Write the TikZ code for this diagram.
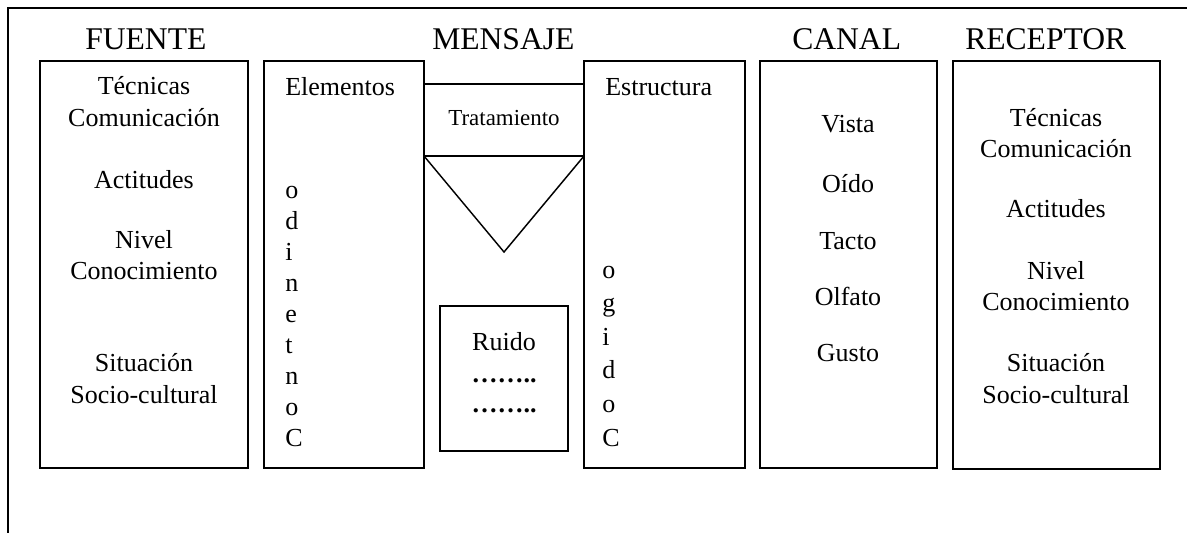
\documentclass[tikz,border=0pt]{standalone}
\usepackage{fontspec}
\setmainfont{Liberation Serif}
\begin{document}
\begin{tikzpicture}[x=0.75pt,y=-0.75pt,
  frame/.style={draw=black,line width=1.1pt},
  head/.style={font=\fontsize{23.7pt}{28pt}\selectfont,inner sep=0pt,anchor=base west},
  txt/.style={font=\fontsize{19.5pt}{23pt}\selectfont,inner sep=0pt,anchor=base},
  txtl/.style={font=\fontsize{19.5pt}{23pt}\selectfont,inner sep=0pt,anchor=base west},
  small/.style={font=\fontsize{17.2pt}{20pt}\selectfont,inner sep=0pt,anchor=base}]
\useasboundingbox (0,0) rectangle (1187,533);
% outer border
\draw[frame] (1187,8) -- (8,8) -- (8,533);
% boxes
\draw[frame] (40,61) rectangle (248,468);
\draw[frame] (264,61) rectangle (424,468);
\draw[frame] (424,84) rectangle (584,156);
\draw[frame] (424,156) -- (504,252) -- (584,156);
\draw[frame] (584,61) rectangle (745,468);
\draw[frame] (440,306) rectangle (568,451);
\draw[frame] (760,61) rectangle (937,468);
\draw[frame] (953,61) rectangle (1160,469);
% headings
\node[head] (h1) at (85,49) {FUENTE};
\node[head] (h2) at (432,49) {MENSAJE};
\node[head] (h3) at (792,49) {CANAL};
\node[head] (h4) at (965,49) {RECEPTOR};
% fuente
\node[txt] (f1) at (144,94) {Técnicas};
\node[txt] (f2) at (144,126) {Comunicación};
\node[txt] (f3) at (144,188) {Actitudes};
\node[txt] (f4) at (144,248) {Nivel};
\node[txt] (f5) at (144,279) {Conocimiento};
\node[txt] (f6) at (144,371) {Situación};
\node[txt] (f7) at (144,403) {Socio-cultural};
% mensaje
\node[txtl] (m1) at (285,95) {Elementos};
\node[small] (m2) at (504,125) {Tratamiento};
\node[txtl] (m3) at (605,95) {Estructura};
\foreach \c [count=\i from 0] in {o,d,i,n,e,t,n,o,C}
  \node[txtl] (cl\i) at (285,198+31*\i) {\c};
\foreach \c [count=\i from 0] in {o,g,i,d,o,C}
  \node[txtl] (cr\i) at (602,278+33.6*\i) {\c};
\node[txt] (r1) at (504,350) {Ruido};
\node[txt] (r2) at (504,382) {\textbf{……..}};
\node[txt] (r3) at (504,412) {\textbf{……..}};
% canal
\node[txt] (c1) at (848,132) {Vista};
\node[txt] (c2) at (848,192) {Oído};
\node[txt] (c3) at (848,249) {Tacto};
\node[txt] (c4) at (848,305) {Olfato};
\node[txt] (c5) at (848,361) {Gusto};
% receptor
\node[txt] (e1) at (1056,126) {Técnicas};
\node[txt] (e2) at (1056,157) {Comunicación};
\node[txt] (e3) at (1056,217) {Actitudes};
\node[txt] (e4) at (1056,279) {Nivel};
\node[txt] (e5) at (1056,310) {Conocimiento};
\node[txt] (e6) at (1056,371) {Situación};
\node[txt] (e7) at (1056,403) {Socio-cultural};
\end{tikzpicture}
\end{document}
